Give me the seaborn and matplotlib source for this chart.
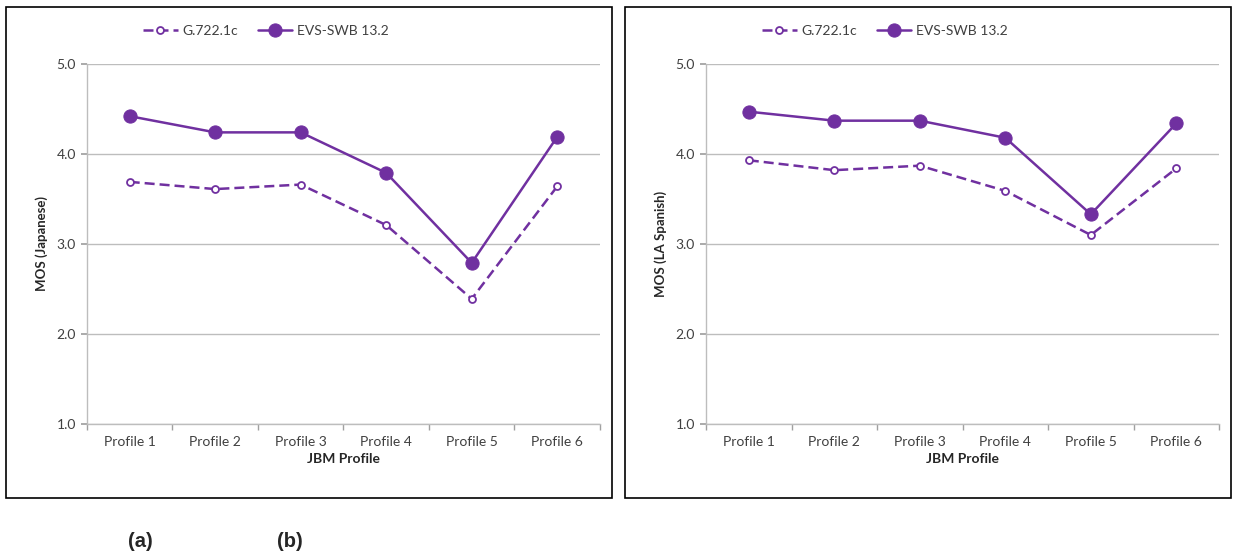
import numpy as np
import pandas as pd
import seaborn as sns
import matplotlib
matplotlib.use("Agg")
import matplotlib.pyplot as plt
from matplotlib.patches import Rectangle

# data
profiles = ["Profile 1", "Profile 2", "Profile 3", "Profile 4", "Profile 5", "Profile 6"]
jp_g722 = [3.69, 3.61, 3.66, 3.21, 2.39, 3.64]
jp_evs = [4.42, 4.24, 4.24, 3.79, 2.79, 4.19]
es_g722 = [3.93, 3.82, 3.87, 3.59, 3.10, 3.84]
es_evs = [4.47, 4.37, 4.37, 4.18, 3.33, 4.34]
y_ticks = [1.0, 2.0, 3.0, 4.0, 5.0]

sns.set_theme(style="white")
plt.rcParams["font.family"] = ["Lato", "DejaVu Sans"]

purple = "#7030A0"
grey = "#404040"

fig = plt.figure(figsize=(12.35, 5.51), dpi=100)

panels = [
    (0.0704, jp_g722, jp_evs, "MOS (Japanese)", 0.0049),
    (0.5717, es_g722, es_evs, "MOS (LA Spanish)", 0.5061),
]

for left, g722, evs, ylab, bx in panels:
    # panel frame
    fig.patches.append(Rectangle((bx, 0.0962), 0.4906, 0.8911, transform=fig.transFigure,
                                 fill=False, edgecolor="black", linewidth=1.2))
    ax = fig.add_axes([left, 0.2305, 0.4154, 0.6534])
    df = pd.DataFrame({"profile": profiles, "g": g722, "e": evs})
    sns.lineplot(data=df, x="profile", y="g", sort=False, ax=ax, color=purple,
                 linestyle="--", linewidth=1.8, marker="o", markersize=5,
                 markerfacecolor="white", markeredgecolor=purple, markeredgewidth=1.3,
                 label="G.722.1c")
    sns.lineplot(data=df, x="profile", y="e", sort=False, ax=ax, color=purple,
                 linewidth=1.8, marker="o", markersize=9.5, markeredgecolor=purple,
                 label="EVS-SWB 13.2")
    ax.lines[0].set_dashes([4, 2])

    ax.set_xlim(-0.5, 5.5)
    ax.set_ylim(1.0, 5.0)
    ax.set_yticks(y_ticks)
    ax.set_yticklabels([f"{v:.1f}" for v in y_ticks])
    ax.set_xticks(range(len(profiles)))
    ax.set_xticklabels(profiles)
    ax.set_xticks(np.arange(-0.5, 6, 1.0), minor=True)
    ax.tick_params(axis="x", which="major", length=0, pad=9, labelsize=10, labelcolor=grey)
    ax.tick_params(axis="x", which="minor", length=4, color="#a0a0a0", direction="out", bottom=True)
    ax.tick_params(axis="y", length=4, color="#a0a0a0", direction="out", left=True,
                   labelsize=10, labelcolor=grey, pad=4)
    ax.yaxis.grid(True, color="#bdbdbd", linewidth=1)
    ax.set_axisbelow(True)
    for s in ["top", "right"]:
        ax.spines[s].set_visible(False)
    for s in ["left", "bottom"]:
        ax.spines[s].set_color("#bdbdbd")
        ax.spines[s].set_linewidth(1)
    ax.set_xlabel("JBM Profile", fontsize=10, fontweight="bold", color="#262626", labelpad=3)
    ax.set_ylabel(ylab, fontsize=9.5, fontweight="bold", color="#262626", labelpad=6)
    ax.legend(loc="center", bbox_to_anchor=(0.349, 1.092), ncol=2, frameon=False,
              fontsize=10, handlelength=2.5, columnspacing=1.4, handletextpad=0.35,
              labelcolor=grey)

fig.text(0.1036, 0.008, "(a)", fontsize=14.5, fontweight="bold", family="Liberation Sans")
fig.text(0.2243, 0.008, "(b)", fontsize=14.5, fontweight="bold", family="Liberation Sans")

fig.savefig("out.png", dpi=100)
